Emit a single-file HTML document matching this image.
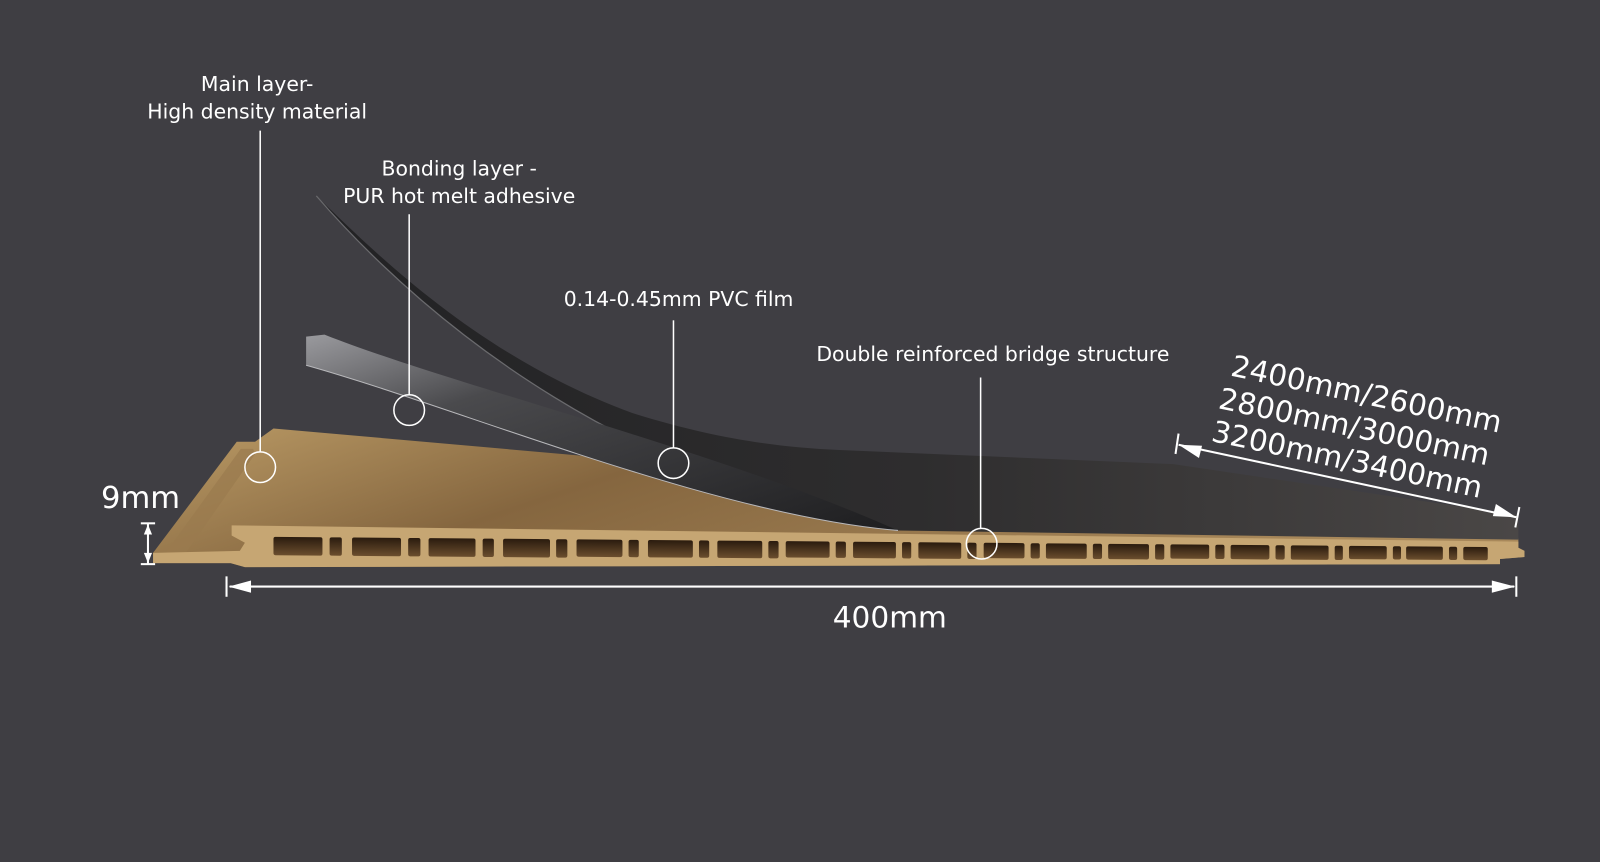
<!DOCTYPE html>
<html><head><meta charset="utf-8"><style>
html,body{margin:0;padding:0;background:#3f3e43;}
svg{display:block}
text{font-family:"DejaVu Sans","Liberation Sans",sans-serif;fill:#fff}
</style></head><body>
<svg width="1600" height="862" viewBox="0 0 1568 845" preserveAspectRatio="none" xmlns="http://www.w3.org/2000/svg">
<defs>
<linearGradient id="tan" x1="0" y1="0" x2="1" y2="0.3">
<stop offset="0" stop-color="#bb9b66"/><stop offset="0.4" stop-color="#85663f"/><stop offset="1" stop-color="#a8885a"/>
</linearGradient>
<linearGradient id="film" x1="0" y1="0" x2="1" y2="0">
<stop offset="0" stop-color="#222224"/><stop offset="0.5" stop-color="#2e2d2e"/><stop offset="1" stop-color="#4a4746"/>
</linearGradient>
<linearGradient id="gray" x1="0" y1="0" x2="1" y2="1">
<stop offset="0" stop-color="#9a9a9e"/><stop offset="0.3" stop-color="#4a4a4d"/><stop offset="1" stop-color="#1e1e20"/>
</linearGradient>
<linearGradient id="hole" x1="0" y1="0" x2="0" y2="1">
<stop offset="0" stop-color="#2a1b0e"/><stop offset="1" stop-color="#6b4e2e"/>
</linearGradient>
</defs>
<rect width="1568" height="845" fill="#3f3e43"/>

<path d="M150,542 L232,433 L250,433 L268,420 L1488,528 L1488,537 L1494,540 L1494,546 L1470,548 L1470,553 L240,556 L226,552 L150,552 Z" fill="url(#tan)"/>
<path d="M158,548 L236,440 L248,440 L250,445 L178,548 Z" fill="#9a7b4f" opacity="0.7"/>
<path d="M227,515 L1488,531 L1488,537 L1494,540 L1494,546 L1470,548 L1470,553 L240,556 L226,552 L150,552 L150,542 L235,540 L240,532 L227,525 Z" fill="#c6a673"/>
<g transform="translate(0,524) skewY(0.48)" fill="url(#hole)">
<rect x="268" y="0" width="48" height="18" rx="2"/><rect x="323" y="0" width="12" height="18" rx="2"/>
<rect x="345" y="0" width="48" height="18" rx="2"/><rect x="400" y="0" width="12" height="18" rx="2"/>
<rect x="420" y="0" width="46" height="18" rx="2"/><rect x="473" y="0" width="11" height="18" rx="2"/>
<rect x="493" y="0" width="46" height="18" rx="2"/><rect x="545" y="0" width="11" height="18" rx="2"/>
<rect x="565" y="0" width="45" height="17" rx="2"/><rect x="616" y="0" width="10" height="17" rx="2"/>
<rect x="635" y="0" width="44" height="17" rx="2"/><rect x="685" y="0" width="10" height="17" rx="2"/>
<rect x="703" y="0" width="44" height="17" rx="2"/><rect x="753" y="0" width="10" height="17" rx="2"/>
<rect x="770" y="0" width="43" height="16" rx="2"/><rect x="819" y="0" width="10" height="16" rx="2"/>
<rect x="836" y="0" width="42" height="16" rx="2"/><rect x="884" y="0" width="9" height="16" rx="2"/>
<rect x="900" y="0" width="42" height="16" rx="2"/><rect x="948" y="0" width="9" height="16" rx="2"/>
<rect x="964" y="0" width="40" height="15" rx="2"/><rect x="1010" y="0" width="9" height="15" rx="2"/>
<rect x="1025" y="0" width="40" height="15" rx="2"/><rect x="1071" y="0" width="9" height="15" rx="2"/>
<rect x="1086" y="0" width="40" height="15" rx="2"/><rect x="1132" y="0" width="9" height="15" rx="2"/>
<rect x="1147" y="0" width="38" height="14" rx="2"/><rect x="1191" y="0" width="9" height="14" rx="2"/>
<rect x="1206" y="0" width="38" height="14" rx="2"/><rect x="1250" y="0" width="9" height="14" rx="2"/>
<rect x="1265" y="0" width="37" height="14" rx="2"/><rect x="1308" y="0" width="8" height="14" rx="2"/>
<rect x="1322" y="0" width="37" height="13" rx="2"/><rect x="1365" y="0" width="8" height="13" rx="2"/>
<rect x="1378" y="0" width="36" height="13" rx="2"/><rect x="1420" y="0" width="8" height="13" rx="2"/>
<rect x="1434" y="0" width="24" height="13" rx="2"/>
</g>

<path d="M310,192 C 370,250 470,350 620,405 C 700,430 760,438 820,441 L1150,455 L1488,505 L1488,529 L880,520 C 620,470 430,330 310,192 Z" fill="url(#film)"/>
<path d="M310,192 C 430,330 620,470 880,520" fill="none" stroke="#6a6a6d" stroke-width="1.2"/>
<path d="M300,330 L318,328 C 450,380 700,440 880,520 C 700,505 450,400 300,358 Z" fill="url(#gray)"/>
<path d="M300,358 C 450,400 700,505 880,520" fill="none" stroke="#b8b8bb" stroke-width="1"/>

<g stroke="#fff" stroke-width="1.5" fill="none">
<line x1="255" y1="128" x2="255" y2="443"/><circle cx="255" cy="458" r="15"/>
<line x1="401" y1="210" x2="401" y2="387"/><circle cx="401" cy="402" r="15"/>
<line x1="660" y1="314" x2="660" y2="439"/><circle cx="660" cy="454" r="15"/>
<line x1="961" y1="370" x2="961" y2="518"/><circle cx="962" cy="533" r="15"/>
</g>

<g stroke="#fff" stroke-width="2" fill="#fff">
<line x1="145" y1="513" x2="145" y2="553"/>
<line x1="138" y1="513" x2="152" y2="513"/><line x1="138" y1="553" x2="152" y2="553"/>
<path d="M145,514 L141,524 L149,524 Z M145,552 L141,542 L149,542 Z" stroke="none"/>
<line x1="225" y1="575" x2="1484" y2="575"/>
<line x1="222" y1="565" x2="222" y2="585"/><line x1="1486" y1="565" x2="1486" y2="585"/>
<path d="M224,575 L246,569 L246,581 Z M1485,575 L1462,569 L1462,581 Z" stroke="none"/>
<line x1="1155" y1="436" x2="1486" y2="507"/>
<line x1="1155" y1="425" x2="1152" y2="445"/><line x1="1489" y1="497" x2="1485" y2="517"/>
<path d="M1155,436 L1175,449 L1178,437 Z M1486,507 L1463,506 L1466,494 Z" stroke="none"/>
</g>

<g font-size="20" text-anchor="middle">
<text x="252" y="89">Main layer-</text>
<text x="252" y="116">High density material</text>
<text x="450" y="172">Bonding layer -</text>
<text x="450" y="199">PUR hot melt adhesive</text>
<text x="665" y="300">0.14-0.45mm PVC film</text>
<text x="973" y="354">Double reinforced bridge structure</text>
</g>
<text x="99" y="498" font-size="30">9mm</text>
<text x="872" y="615" font-size="29" text-anchor="middle">400mm</text>
<g font-size="29">
<text transform="translate(1205,368) rotate(12)">2400mm/2600mm</text>
<text transform="translate(1193,400) rotate(12)">2800mm/3000mm</text>
<text transform="translate(1186,432) rotate(12)">3200mm/3400mm</text>
</g>
</svg>
</body></html>
